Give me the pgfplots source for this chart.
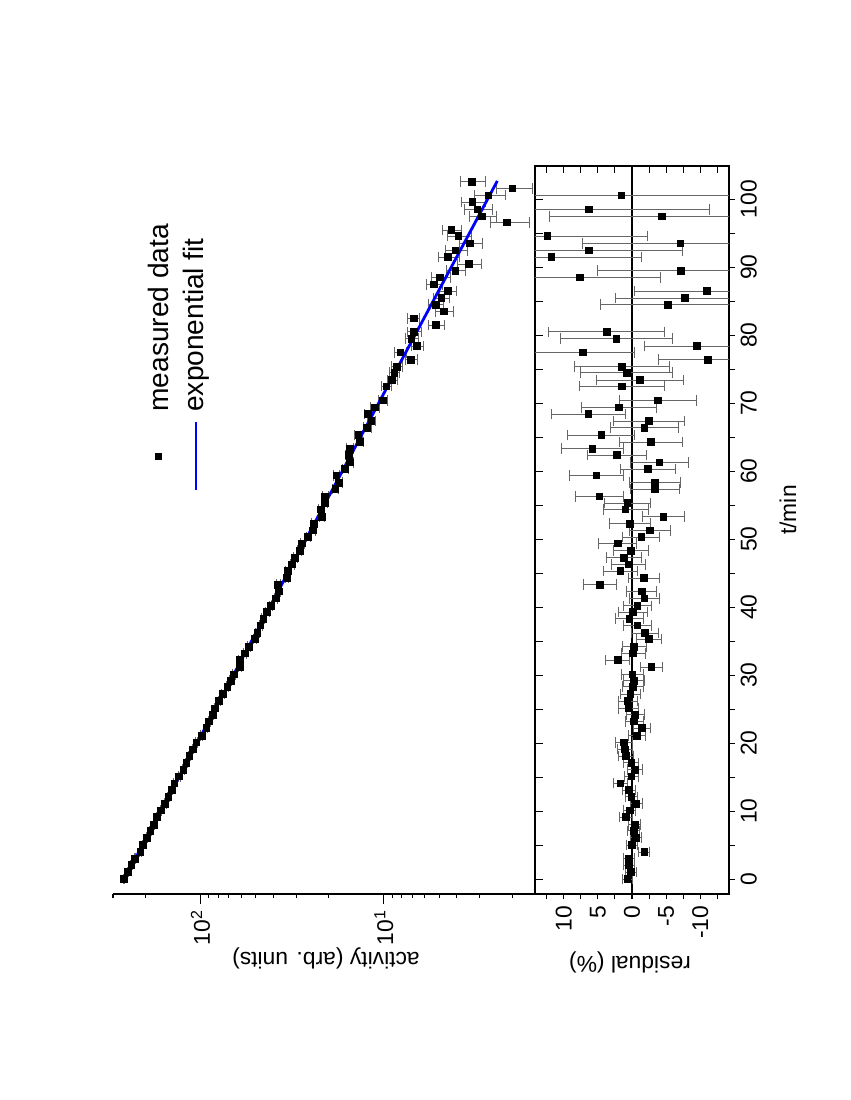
\documentclass[border=0pt]{standalone}
\usepackage{fontspec}
\setmainfont{Liberation Sans}
\usepackage{pgfplots}
\usepackage{pgfplotstable}
\pgfplotsset{compat=1.18}

% residuals in percent: t/min, residual, error
\pgfplotstableread{
t r e
0.0 0.67 0.77
1.03 0.14 0.8
2.06 0.48 0.8
3.0 0.43 0.77
4.0 -1.8 0.8
5.0 0.0 0.8
6.1 -0.53 0.8
7.1 -0.24 0.85
8.0 -0.38 0.9
9.1 0.9 0.9
10.1 0.34 0.9
11.1 -0.6 0.9
12.1 0.1 0.9
13.1 0.48 0.9
14.1 1.7 1.05
15.1 0.1 1.05
16.1 -0.48 1.1
17.1 0.1 1.1
18.1 0.9 1.15
19.1 1.06 1.15
20.1 1.2 1.2
21.1 -0.7 1.25
22.2 -1.45 1.3
23.2 -0.3 1.3
24.2 -0.48 1.3
25.1 0.53 1.4
26.2 0.67 1.4
27.2 0.24 1.5
28.3 -0.14 1.5
29.2 -0.3 1.5
30.1 -0.05 1.55
31.2 -2.85 1.6
32.2 2.1 1.75
33.2 -0.14 1.75
34.2 -0.3 1.75
35.3 -2.5 1.8
36.2 -1.9 1.95
37.3 -0.8 2.0
38.3 0.4 2.0
39.3 -0.1 2.1
40.2 -0.77 2.1
41.3 -1.8 2.2
42.3 -1.4 2.2
43.3 4.7 2.35
44.3 -1.7 2.3
45.3 1.7 2.45
46.3 0.5 2.5
47.3 1.2 2.6
48.3 0.14 2.6
49.4 2.1 2.8
50.3 -1.35 2.7
51.3 -2.6 3.0
52.3 0.34 3.0
53.3 -4.6 3.1
54.4 0.96 3.3
55.3 0.7 3.4
56.3 4.8 3.5
57.4 -3.3 3.6
58.3 -3.3 3.75
59.4 5.2 3.9
60.3 -2.3 4.0
61.3 -4.0 4.2
62.4 2.2 4.3
63.3 5.8 4.5
64.3 -2.8 4.6
65.3 4.5 4.9
66.4 -1.8 5.0
67.4 -2.45 5.2
68.4 6.4 5.4
69.4 1.9 5.5
70.4 -3.75 5.6
72.5 1.5 6.2
73.4 -1.15 6.4
74.5 0.8 6.7
75.4 1.5 7.0
76.4 -11.1 7.2
77.5 7.2 7.5
78.4 -9.5 7.7
79.5 2.3 8.2
80.5 3.7 8.5
84.5 -5.2 9.8
85.5 -7.7 10.2
86.5 -11.0 10.6
88.5 7.6 11.8
89.5 -7.2 12.2
91.5 11.8 13.2
92.5 6.3 13.7
93.5 -7.1 14.3
94.6 12.4 14.7
97.5 -4.4 16.5
98.5 6.35 17.7
100.6 1.54 19
}\restab

% activity: t/min, value, relative error
\pgfplotstableread{
t A e
0.0 261.8 0.0077
1.03 248.5 0.008
2.06 237.9 0.008
3.0 227.8 0.0077
4.0 212.7 0.008
5.0 207.0 0.008
6.1 195.8 0.008
7.1 187.7 0.0085
8.0 179.8 0.009
9.1 173.3 0.009
10.1 164.6 0.009
11.1 155.9 0.009
12.1 149.9 0.009
13.1 143.8 0.009
14.1 139.0 0.0105
15.1 130.7 0.0105
16.1 124.2 0.011
17.1 119.3 0.011
18.1 114.9 0.0115
19.1 110.0 0.0115
20.1 105.3 0.012
21.1 98.65 0.0125
22.2 93.1 0.013
23.2 90.0 0.013
24.2 85.8 0.013
25.1 83.2 0.014
26.2 79.3 0.014
27.2 75.4 0.015
28.3 71.5 0.015
29.2 68.5 0.015
30.1 65.9 0.0155
31.2 60.9 0.016
32.2 61.1 0.0175
33.2 57.1 0.0175
34.2 54.5 0.0175
35.3 50.7 0.018
36.2 49.0 0.0195
37.3 47.1 0.02
38.3 45.5 0.02
39.3 43.3 0.021
40.2 41.3 0.021
41.3 38.8 0.022
42.3 37.3 0.022
43.3 37.8 0.0235
44.3 33.9 0.023
45.3 33.5 0.0245
46.3 31.7 0.025
47.3 30.5 0.026
48.3 28.8 0.026
49.4 27.9 0.028
50.3 25.9 0.027
51.3 24.4 0.03
52.3 24.0 0.03
53.3 21.8 0.031
54.4 22.0 0.033
55.3 21.0 0.034
56.3 20.9 0.035
57.4 18.4 0.036
58.3 17.6 0.0375
59.4 18.2 0.039
60.3 16.3 0.04
61.3 15.3 0.042
62.4 15.5 0.043
63.3 15.4 0.045
64.3 13.5 0.046
65.3 13.8 0.049
66.4 12.4 0.05
67.4 11.7 0.052
68.4 12.2 0.054
69.4 11.2 0.055
70.4 10.1 0.056
72.5 9.68 0.062
73.4 9.05 0.064
74.5 8.78 0.067
75.4 8.48 0.07
76.4 7.10 0.072
77.5 8.14 0.075
78.4 6.60 0.077
79.5 7.09 0.082
80.5 6.87 0.085
81.5 5.19 0.098
82.5 6.89 0.075
83.5 4.72 0.11
84.5 5.23 0.098
85.5 4.87 0.102
86.5 4.48 0.106
87.5 5.36 0.099
88.5 4.95 0.118
89.5 4.08 0.122
90.5 3.45 0.15
91.5 4.48 0.132
92.5 4.07 0.137
93.5 3.40 0.143
94.6 3.92 0.147
95.5 4.28 0.117
96.6 2.13 0.24
97.5 2.92 0.165
98.5 3.10 0.177
99.6 3.30 0.15
100.6 2.69 0.19
101.6 1.99 0.22
102.6 3.31 0.15
}\acttab

\begin{document}
\begin{tikzpicture}[font=\fontsize{13}{15.6}\selectfont]
\path[use as bounding box] (0,0) rectangle (17,22);

% upper panel (shown turned by 90 degrees)
\begin{axis}[
    at={(2.26cm,4.12cm)}, anchor=south west,
    scale only axis, width=8.44cm, height=14.56cm,
    xmode=log, x dir=reverse,
    xmin=1.5, xmax=300, ymin=-2.2, ymax=104.9,
    axis x line*=bottom, axis y line=none,
    tick align=outside,
    xtick={10,100},
    xticklabels={10\textsuperscript{1},10\textsuperscript{2}},
    minor xtick={2,3,4,5,6,7,8,9,20,30,40,50,60,70,80,90,200,300},
    major tick length=0.2cm, minor tick length=0.09cm,
    tick style={black, line width=0.6pt},
    axis line style={black, line width=0.8pt},
    xticklabel style={rotate=90, anchor=east},
]
\addplot[only marks, mark=square*, mark size=1.9pt, black,
    error bars/.cd, x dir=both, x explicit relative,
    error bar style={black!60, line width=0.4pt},
    error mark options={rotate=90, mark size=3pt, black!60}]
    table[x=A, y=t, x error=e] {\acttab};
\addplot[blue, line width=1.6pt, no marks]
    coordinates {(260.0,0) (2.407,102.7)};
\end{axis}

% residual panel
\begin{axis}[
    at={(10.70cm,4.12cm)}, anchor=south west,
    scale only axis, width=3.88cm, height=14.56cm,
    x dir=reverse,
    xmin=-14.2, xmax=14.2, ymin=-2.2, ymax=104.9,
    xtick={-10,-5,0,5,10}, xticklabels={-10,-5,0,5,10},
    minor xtick={-12.5,-7.5,-2.5,2.5,7.5,12.5},
    ytick={0,10,...,100},
    yticklabels={0,10,20,30,40,50,60,70,80,90,100},
    minor ytick={5,15,...,95},
    xtick pos=left, ytick pos=right, yticklabel pos=right,
    tick align=outside,
    major tick length=0.11cm, minor tick length=0.11cm,
    tick style={black, line width=0.6pt},
    axis line style={black, line width=0.8pt},
    xticklabel style={rotate=90, anchor=east},
    yticklabel style={rotate=90, anchor=north},
]
\addplot[black, line width=1.1pt] coordinates {(0,-2.2) (0,104.9)};
\addplot[only marks, mark=square*, mark size=1.9pt, black,
    error bars/.cd, x dir=both, x explicit,
    error bar style={black!60, line width=0.4pt},
    error mark options={rotate=90, mark size=3pt, black!60}]
    table[x=r, y=t, x error=e] {\restab};
\end{axis}

% inner ticks of the residual panel
\begin{axis}[
    at={(10.70cm,4.12cm)}, anchor=south west,
    scale only axis, width=3.88cm, height=14.56cm,
    x dir=reverse,
    xmin=-14.2, xmax=14.2, ymin=-2.2, ymax=104.9,
    axis line style={draw=none},
    xtick={-10,-5,0,5,10}, minor xtick={-12.5,-7.5,-2.5,2.5,7.5,12.5},
    ytick={0,10,...,100}, minor ytick={5,15,...,95},
    xticklabels={}, yticklabels={},
    xtick pos=right, ytick pos=left,
    tick align=inside,
    major tick length=0.15cm, minor tick length=0.15cm,
    tick style={black, line width=0.6pt},
]
\addplot[draw=none] coordinates {(0,0)};
\end{axis}

% legend, turned like the rest
\node[fill=black, minimum size=0.14cm, inner sep=0pt] at (3.16,12.86) {};
\draw[blue, line width=1.6pt] (3.92,12.2) -- (3.92,13.56);
\node[rotate=90, anchor=west, inner sep=0pt, font=\fontsize{16}{19}\selectfont]
    at (3.16,13.76) {measured data};
\node[rotate=90, anchor=west, inner sep=0pt, font=\fontsize{16}{19}\selectfont]
    at (3.92,13.76) {exponential fit};

\node[rotate=180] at (6.52,2.84) {activity (arb. units)};
\node[rotate=180] at (12.6,2.76) {residual (\%)};
\node[rotate=90] at (15.76,11.8) {t/min};
\end{tikzpicture}
\end{document}
